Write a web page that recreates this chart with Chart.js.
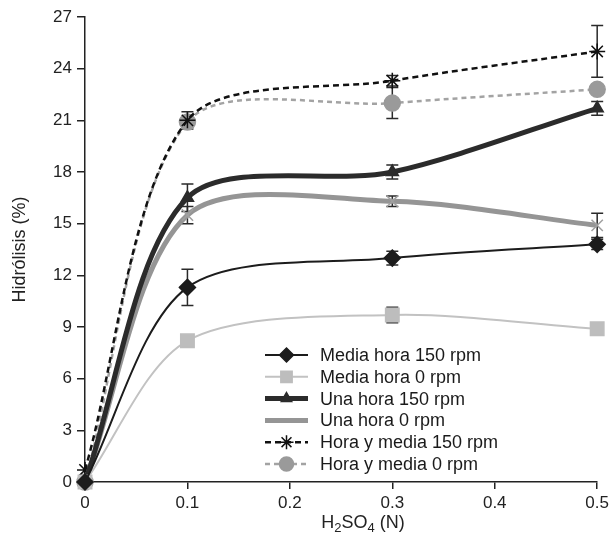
<!DOCTYPE html>
<html>
<head>
<meta charset="utf-8">
<title>Hidrólisis vs H2SO4</title>
<script src="https://cdn.jsdelivr.net/npm/chart.js@4/dist/chart.umd.min.js"></script>
<style>
  html, body { margin: 0; padding: 0; background: #fff; }
  canvas { display: block; }
</style>
</head>
<body>
<canvas id="myChart" width="613" height="536"></canvas>
<script>
// Acid concentration (N) on the x axis
const conc = [0, 0.1, 0.3, 0.5];

// Hydrolysis (%) for each time / agitation condition
const mediaHora150 = [0.0, 11.3, 13.0, 13.8];
const mediaHora0 = [0.0, 8.2, 9.7, 8.9];
const unaHora150 = [0.0, 16.5, 18.0, 21.7];
const unaHora0 = [0.0, 15.5, 16.3, 14.9];
const horaYMedia150 = [0.7, 21.0, 23.3, 25.0];
const horaYMedia0 = [0.0, 20.9, 22.0, 22.8];

// Half-width of the error bars
const errMediaHora150 = [0, 1.05, 0.4, 0.3];
const errMediaHora0 = [0, 0, 0.45, 0];
const errUnaHora150 = [0, 0.8, 0.4, 0.4];
const errUnaHora0 = [0, 0.5, 0.3, 0.7];
const errHoraYMedia150 = [0, 0.5, 0.3, 1.5];
const errHoraYMedia0 = [0, 0, 0.9, 0];

const yTicks = [0, 3, 6, 9, 12, 15, 18, 21, 24, 27];

const FONT = '"Liberation Sans", Arial, sans-serif';

function toPoints(values) {
    return values.map((v, i) => ({ x: conc[i], y: v }));
}

function makeSet(label, values, errs, style) {
    return Object.assign({
        label: label,
        data: toPoints(values),
        errors: errs,
        tension: 0.3,
        fill: false,
        clip: false,
        pointBorderWidth: 1.5
    }, style);
}

const datasets = [
    makeSet('Media hora 150 rpm', mediaHora150, errMediaHora150, {
        borderColor: '#1c1c1c', borderWidth: 2,
        pointStyle: 'rectRot', pointRadius: 8,
        pointBackgroundColor: '#1c1c1c', pointBorderColor: '#1c1c1c'
    }),
    makeSet('Media hora 0 rpm', mediaHora0, errMediaHora0, {
        borderColor: '#c2c2c2', borderWidth: 2,
        pointStyle: 'rect', pointRadius: 9.5, legendRadius: 8,
        pointBackgroundColor: '#bdbdbd', pointBorderColor: '#bdbdbd'
    }),
    makeSet('Una hora 150 rpm', unaHora150, errUnaHora150, {
        borderColor: '#2b2b2b', borderWidth: 5,
        pointStyle: 'triangle', pointRadius: 7,
        pointBackgroundColor: '#2b2b2b', pointBorderColor: '#2b2b2b'
    }),
    makeSet('Una hora 0 rpm', unaHora0, errUnaHora0, {
        borderColor: '#959595', borderWidth: 5,
        pointStyle: 'crossRot', pointRadius: 8,
        pointBackgroundColor: '#a0a0a0', pointBorderColor: '#a0a0a0',
        legendMarker: false
    }),
    makeSet('Hora y media 150 rpm', horaYMedia150, errHoraYMedia150, {
        borderColor: '#111', borderWidth: 2.5, borderDash: [6, 4],
        pointStyle: 'star', pointRadius: 8,
        pointBackgroundColor: '#111', pointBorderColor: '#111'
    }),
    makeSet('Hora y media 0 rpm', horaYMedia0, errHoraYMedia0, {
        borderColor: '#a3a3a3', borderWidth: 2.5, borderDash: [5, 4],
        pointStyle: 'circle', pointRadius: 8,
        pointBackgroundColor: '#9a9a9a', pointBorderColor: '#9a9a9a'
    })
];

// Vertical error bars with caps, placed through the chart scales
// (drawn first so the markers sit on top of them)
const errorBars = {
    id: 'errorBars',
    beforeDatasetsDraw(chart) {
        const ctx = chart.ctx;
        const xs = chart.scales.x;
        const ys = chart.scales.y;
        ctx.save();
        ctx.strokeStyle = '#2a2a2a';
        ctx.lineWidth = 1.5;
        chart.data.datasets.forEach(ds => {
            ds.data.forEach((p, i) => {
                const e = ds.errors[i];
                if (!e) return;
                const px = xs.getPixelForValue(p.x);
                const top = ys.getPixelForValue(p.y + e);
                const bot = ys.getPixelForValue(p.y - e);
                ctx.beginPath();
                ctx.moveTo(px, top); ctx.lineTo(px, bot);
                ctx.moveTo(px - 6, top); ctx.lineTo(px + 6, top);
                ctx.moveTo(px - 6, bot); ctx.lineTo(px + 6, bot);
                ctx.stroke();
            });
        });
        ctx.restore();
    }
};

// Legend drawn inside the plot, lower right
const insideLegend = {
    id: 'insideLegend',
    afterDraw(chart) {
        const ctx = chart.ctx;
        const x0 = 265, x1 = 308, textX = 320;
        let y = 355;
        ctx.save();
        ctx.font = '18px ' + FONT;
        ctx.textBaseline = 'middle';
        chart.data.datasets.forEach(ds => {
            ctx.strokeStyle = ds.borderColor;
            ctx.lineWidth = ds.borderWidth;
            ctx.setLineDash(ds.borderDash || []);
            ctx.beginPath();
            ctx.moveTo(x0, y); ctx.lineTo(x1, y);
            ctx.stroke();
            ctx.setLineDash([]);
            if (ds.legendMarker !== false) {
                ctx.fillStyle = ds.pointBackgroundColor;
                ctx.strokeStyle = ds.pointBorderColor;
                ctx.lineWidth = ds.pointBorderWidth;
                Chart.helpers.drawPoint(ctx, {
                    pointStyle: ds.pointStyle,
                    radius: ds.legendRadius || ds.pointRadius - 1,
                    rotation: 0,
                    borderWidth: ds.pointBorderWidth
                }, (x0 + x1) / 2, y);
            }
            ctx.fillStyle = '#1a1a1a';
            ctx.fillText(ds.label, textX, y + 1);
            y += 21.8;
        });
        ctx.restore();
    }
};

// x axis title with real subscripts: H2SO4 (N)
const xTitle = {
    id: 'xTitle',
    afterDraw(chart) {
        const ctx = chart.ctx;
        const parts = [['H', 0], ['2', 1], ['SO', 0], ['4', 1], [' (N)', 0]];
        const big = '18px ' + FONT, small = '13px ' + FONT;
        ctx.save();
        ctx.fillStyle = '#222';
        ctx.textBaseline = 'alphabetic';
        let w = 0;
        parts.forEach(([t, sub]) => { ctx.font = sub ? small : big; w += ctx.measureText(t).width; });
        let x = 363 - w / 2;
        const base = 528;
        parts.forEach(([t, sub]) => {
            ctx.font = sub ? small : big;
            ctx.fillText(t, x, sub ? base + 4 : base);
            x += ctx.measureText(t).width;
        });
        ctx.restore();
    }
};

const ctx = document.getElementById('myChart').getContext('2d');
const myChart = new Chart(ctx, {
    type: 'line',
    data: { datasets: datasets },
    options: {
        responsive: false,
        animation: false,
        layout: { padding: { top: 17, right: 14, left: 0, bottom: 0 } },
        plugins: {
            legend: { display: false },
            tooltip: { enabled: false }
        },
        scales: {
            x: {
                type: 'linear',
                min: 0,
                max: 0.5,
                afterFit(scale) { scale.height = 54; },
                border: { display: true, color: '#222', width: 1.5 },
                grid: { drawOnChartArea: false, drawTicks: true, tickLength: 7, color: '#222', lineWidth: 1.5 },
                ticks: {
                    stepSize: 0.1,
                    color: '#222',
                    padding: 4,
                    font: { family: FONT, size: 17 },
                    callback: v => Number(v.toFixed(1)).toString()
                }
            },
            y: {
                min: 0,
                max: 27,
                afterFit(scale) { scale.width = 85; },
                afterBuildTicks(scale) { scale.ticks = yTicks.map(v => ({ value: v })); },
                border: { display: true, color: '#222', width: 1.5 },
                grid: { drawOnChartArea: false, drawTicks: true, tickLength: 8, color: '#222', lineWidth: 1.5 },
                ticks: {
                    color: '#222',
                    padding: 5,
                    font: { family: FONT, size: 17 }
                },
                title: {
                    display: true,
                    text: 'Hidrólisis (%)',
                    color: '#222',
                    padding: { top: 9, bottom: 0 },
                    font: { family: FONT, size: 18 }
                }
            }
        }
    },
    plugins: [errorBars, insideLegend, xTitle]
});
</script>
</body>
</html>
